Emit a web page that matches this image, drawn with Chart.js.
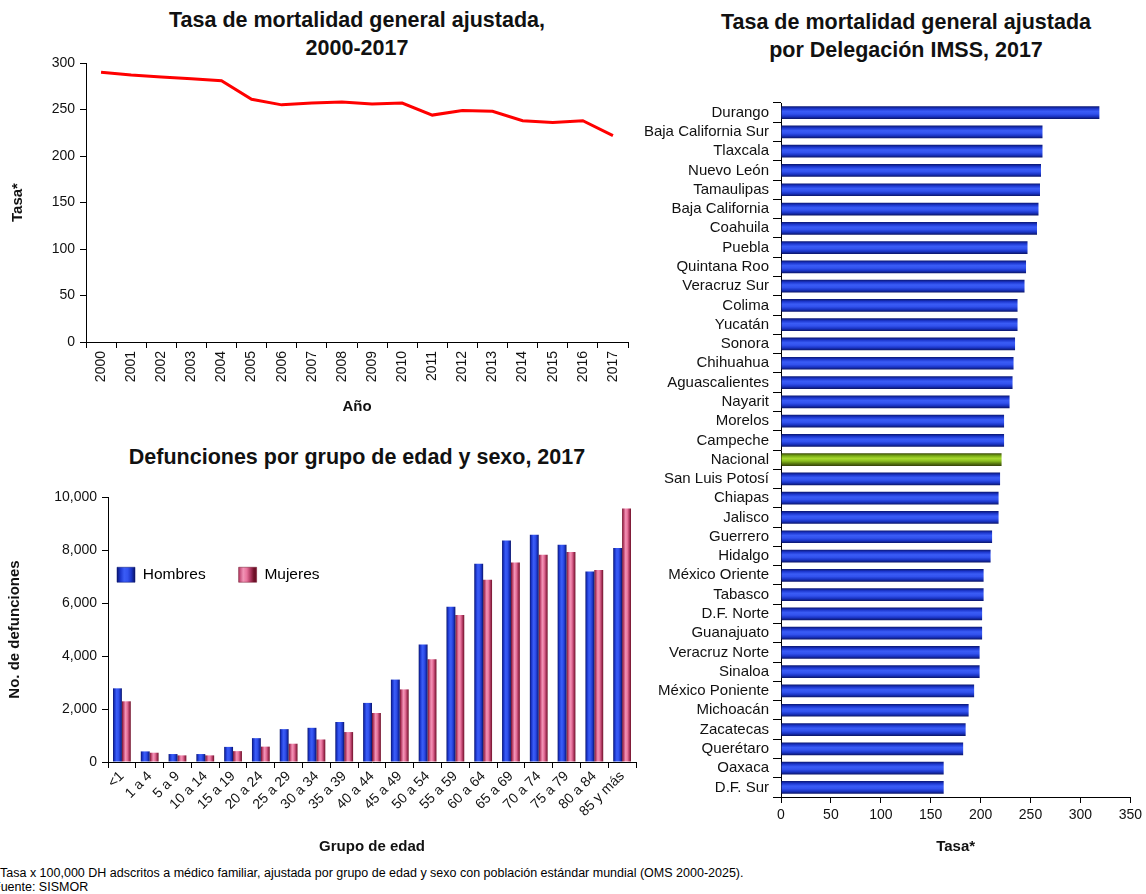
<!DOCTYPE html>
<html>
<head>
<meta charset="utf-8">
<script src="https://cdn.jsdelivr.net/npm/chart.js@4.4.0/dist/chart.umd.min.js"></script>
<style>
  body { margin: 0; background: #fff; width: 1146px; height: 894px; overflow: hidden; position: relative;
         font-family: 'Liberation Sans', Arial, sans-serif; }
  canvas { position: absolute; }
  .ttl { position: absolute; text-align: center; font-weight: bold; font-size: 21.5px; line-height: 28px; color: #111; }
  .note { position: absolute; font-size: 12.5px; color: #000; white-space: nowrap; }
</style>
</head>
<body>

<div class="ttl" style="left:57px; top:6px; width:600px;">Tasa de mortalidad general ajustada,<br>2000-2017</div>
<div class="ttl" style="left:57px; top:443px; width:600px;">Defunciones por grupo de edad y sexo, 2017</div>
<div class="ttl" style="left:656px; top:8px; width:500px;">Tasa de mortalidad general ajustada<br>por Delegación IMSS, 2017</div>

<canvas id="cLinea" width="640" height="420" style="left:0; top:0;"></canvas>
<canvas id="cEdad" width="640" height="390" style="left:0; top:470px;"></canvas>
<canvas id="cDeleg" width="506" height="770" style="left:640px; top:90px;"></canvas>

<div class="note" style="left:0; top:866px;">Tasa x 100,000 DH adscritos a médico familiar, ajustada por grupo de edad y sexo con población estándar mundial (OMS 2000-2025).</div>
<div class="note" style="left:-7px; top:880px;">Fuente: SISMOR</div>

<script>
// --- datos ---
const anios = ['2000', '2001', '2002', '2003', '2004', '2005', '2006', '2007', '2008',
  '2009', '2010', '2011', '2012', '2013', '2014', '2015', '2016', '2017'];
const tasaAnual = [290, 287, 285, 283, 281, 261, 255, 257, 258, 256, 257, 244, 249, 248, 238, 236, 238, 222];

const gruposEdad = ['<1', '1 a 4', '5 a 9', '10 a 14', '15 a 19', '20 a 24', '25 a 29', '30 a 34',
  '35 a 39', '40 a 44', '45 a 49', '50 a 54', '55 a 59', '60 a 64', '65 a 69', '70 a 74',
  '75 a 79', '80 a 84', '85 y más'];
const hombres = [2780, 400, 300, 300, 570, 900, 1240, 1290, 1510, 2230, 3110, 4430, 5860, 7480, 8360, 8580, 8200, 7190, 8080];
const mujeres = [2290, 350, 250, 250, 410, 580, 690, 850, 1130, 1850, 2740, 3880, 5550, 6880, 7530, 7820, 7920, 7250, 9570];

const delegaciones = ['Durango', 'Baja California Sur', 'Tlaxcala', 'Nuevo León', 'Tamaulipas',
  'Baja California', 'Coahuila', 'Puebla', 'Quintana Roo', 'Veracruz Sur', 'Colima', 'Yucatán',
  'Sonora', 'Chihuahua', 'Aguascalientes', 'Nayarit', 'Morelos', 'Campeche', 'Nacional',
  'San Luis Potosí', 'Chiapas', 'Jalisco', 'Guerrero', 'Hidalgo', 'México Oriente', 'Tabasco',
  'D.F. Norte', 'Guanajuato', 'Veracruz Norte', 'Sinaloa', 'México Poniente', 'Michoacán',
  'Zacatecas', 'Querétaro', 'Oaxaca', 'D.F. Sur'];
const tasaDelegacion = [319, 262, 262, 260.5, 259.5, 258, 256.5, 247, 245.5, 244, 237, 237,
  234.5, 233, 232, 229, 223.5, 223.5, 221, 219.5, 218, 218, 211.5, 210, 203, 203,
  201.5, 201.5, 199, 199, 193.5, 188, 185, 182.5, 163, 163];

// --- estilos ---
const tonoAzul = ['#0a1670', '#1d38d0', '#3a5cf6', '#3252ee', '#1a34c4', '#0a1466'];
const tonoRosa = ['#6e1028', '#c24a74', '#f294b6', '#e8739c', '#b03a62', '#6e1028'];
const tonoVerde = ['#3a4808', '#78aa16', '#a6d82e', '#8cc020', '#5c7e10', '#34400a'];

Chart.defaults.font.family = "'Liberation Sans', Arial, sans-serif";
Chart.defaults.font.size = 14;
Chart.defaults.color = '#111';

// pinta cada barra con un degradado segun su posicion final
function sombras(elegir) {
  return {
    id: 'sombras',
    beforeDatasetsDraw(chart) {
      const ctx = chart.ctx;
      chart.data.datasets.forEach((ds, di) => {
        chart.getDatasetMeta(di).data.forEach((el, i) => {
          const tono = elegir(di, i);
          const g = el.horizontal
            ? ctx.createLinearGradient(0, el.y - el.height / 2, 0, el.y + el.height / 2)
            : ctx.createLinearGradient(el.x - el.width / 2, 0, el.x + el.width / 2, 0);
          tono.forEach((c, k) => g.addColorStop(k / (tono.length - 1), c));
          el.options.backgroundColor = g;
        });
      });
    }
  };
}

const ejeGrid = { drawOnChartArea: false, tickLength: 6, color: '#000' };
const ejeBorde = { color: '#000', width: 1 };
const tituloEje = (t, pad) => ({
  display: true, text: t, color: '#111', font: { weight: 'bold', size: 15 },
  padding: { top: pad || 4, bottom: 4 }
});

// --- tasa anual ---
new Chart(document.getElementById('cLinea'), {
  type: 'line',
  data: {
    labels: anios,
    datasets: [{ data: tasaAnual, borderColor: '#ff0000', borderWidth: 3, pointRadius: 0, tension: 0, fill: false }]
  },
  options: {
    responsive: false, animation: false, events: [],
    layout: { padding: { top: 63, right: 12, left: 0, bottom: 0 } },
    plugins: { legend: { display: false }, tooltip: { enabled: false } },
    scales: {
      x: {
        offset: true,
        grid: { ...ejeGrid, offset: true },
        border: ejeBorde,
        ticks: { minRotation: 90, maxRotation: 90, autoSkip: false, padding: 3 },
        title: tituloEje('Año'),
        afterFit: s => { s.height = 78; }
      },
      y: {
        min: 0, max: 300,
        grid: ejeGrid,
        border: ejeBorde,
        ticks: { stepSize: 50, padding: 5 },
        title: tituloEje('Tasa*', 9),
        afterFit: s => { s.width = 86; }
      }
    }
  }
});

// --- defunciones por edad y sexo ---
const cajaLeyenda = {
  id: 'cajaLeyenda',
  afterLayout(chart) {
    const lg = chart.legend;
    const pad = lg.options.labels.padding;
    lg.left = 117 - pad;
    lg.top = 97 - pad;
    lg.right = lg.left + 400;
    lg.bottom = lg.top + 60;
    lg.width = 400;
    lg.height = 60;
  }
};

new Chart(document.getElementById('cEdad'), {
  type: 'bar',
  data: {
    labels: gruposEdad,
    datasets: [
      { label: 'Hombres', data: hombres, backgroundColor: () => '#2a44e4' },
      { label: 'Mujeres', data: mujeres, backgroundColor: () => '#e07aa0' }
    ]
  },
  plugins: [sombras(di => (di === 0 ? tonoAzul : tonoRosa)), cajaLeyenda],
  options: {
    responsive: false, animation: false, events: [],
    layout: { padding: { top: 27, right: 4, left: 0, bottom: 0 } },
    datasets: { bar: { categoryPercentage: 0.64, barPercentage: 1 } },
    plugins: {
      tooltip: { enabled: false },
      legend: {
        position: 'top', align: 'start', maxHeight: 0.001,
        labels: {
          padding: 33, boxWidth: 18, boxHeight: 15, font: { size: 15.5 }, color: '#111',
          generateLabels: ch => ch.data.datasets.map((ds, i) => {
            const x0 = i === 0 ? 117 : 236;
            const g = ch.ctx.createLinearGradient(x0, 0, x0 + 18, 0);
            const tono = i === 0 ? tonoAzul : tonoRosa;
            tono.forEach((c, k) => g.addColorStop(k / (tono.length - 1), c));
            return { text: ds.label, fillStyle: g, strokeStyle: tono[0], lineWidth: 0.5, datasetIndex: i };
          })
        }
      }
    },
    scales: {
      x: {
        grid: ejeGrid,
        border: ejeBorde,
        ticks: { minRotation: 45, maxRotation: 45, autoSkip: false, padding: 0 },
        title: tituloEje('Grupo de edad'),
        afterFit: s => { s.height = 98; }
      },
      y: {
        min: 0, max: 10000,
        grid: ejeGrid,
        border: ejeBorde,
        ticks: { stepSize: 2000, padding: 5, callback: v => v.toLocaleString('en-US') },
        title: tituloEje('No. de defunciones', 6),
        afterFit: s => { s.width = 108; }
      }
    }
  }
});

// --- tasa por delegacion ---
new Chart(document.getElementById('cDeleg'), {
  type: 'bar',
  data: {
    labels: delegaciones,
    datasets: [{ data: tasaDelegacion, backgroundColor: () => '#2a44e4' }]
  },
  plugins: [sombras((di, i) => (delegaciones[i] === 'Nacional' ? tonoVerde : tonoAzul))],
  options: {
    indexAxis: 'y',
    responsive: false, animation: false, events: [],
    layout: { padding: { top: 7, right: 14, left: 0, bottom: 0 } },
    datasets: { bar: { categoryPercentage: 0.66, barPercentage: 1 } },
    plugins: { legend: { display: false }, tooltip: { enabled: false } },
    scales: {
      x: {
        min: 0, max: 350,
        grid: ejeGrid,
        border: ejeBorde,
        ticks: { stepSize: 50, padding: 4 },
        title: tituloEje('Tasa*'),
        afterFit: s => { s.height = 63; }
      },
      y: {
        grid: { ...ejeGrid, tickLength: 8 },
        border: ejeBorde,
        ticks: { autoSkip: false, padding: 4, font: { size: 15 } },
        afterFit: s => { s.width = 141; }
      }
    }
  }
});
</script>
</body>
</html>
